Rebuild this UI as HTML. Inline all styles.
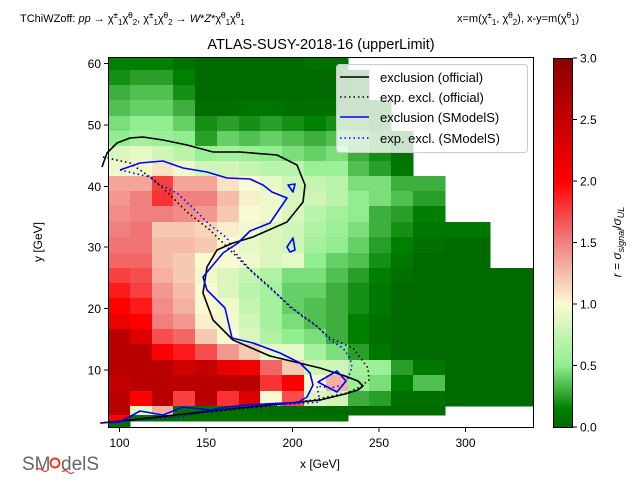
<!DOCTYPE html>
<html><head><meta charset="utf-8"><style>
body{margin:0;background:#fff;}
svg text{font-family:"Liberation Sans","DejaVu Sans",sans-serif;}
</style></head><body>
<svg id="s" width="640" height="480" xmlns="http://www.w3.org/2000/svg">
<defs>
<linearGradient id="cb" x1="0" y1="1" x2="0" y2="0">
<stop offset="0" stop-color="rgb(0,105,0)"/>
<stop offset="0.05" stop-color="rgb(0,128,0)"/>
<stop offset="0.1667" stop-color="rgb(144,238,144)"/>
<stop offset="0.3333" stop-color="rgb(250,250,210)"/>
<stop offset="0.5" stop-color="rgb(240,128,128)"/>
<stop offset="0.6667" stop-color="rgb(255,0,0)"/>
<stop offset="1" stop-color="rgb(139,0,0)"/>
</linearGradient>
</defs>
<g id="cells"></g>
<g fill="none" stroke-width="1.6" stroke-linejoin="round">
<path stroke="#000" d="M102,167 L107,153 L117,143 L130,138 L143,137 L163,140 L187,145 L213,152 L240,152 L277,155 L297,165 L305,185 L303,202 L287,222 L253,237 L233,243 L217,250 L207,267 L203,293 L213,320 L233,340 L270,356 L320,368 L345,376 L358,381 L363,386 L358,390 L345,394 L320,400 L280,404 L200,412 L150,418 L101,423"/>
<path stroke="#000" stroke-dasharray="1.5,3" d="M103,157 L130,163 L150,177 L167,192 L187,212 L210,230 L227,247 L247,267 L270,287 L290,307 L313,323 L330,338 L353,348 L368,368 L369,380 L360,387 L347,393 L313,400 L260,407 L200,413 L150,418 L100,423"/>
<path stroke="#0000ff" d="M120,170 L140,163 L163,161 L183,168 L207,172 L227,178 L250,179 L263,185 L272,192 L287,198 L270,223 L250,231 L238,243 L223,253 L203,277 L207,290 L225,308 L232,338 L253,343 L280,353 L300,363 L310,373 L313,385 L307,397 L297,403 L283,403 L247,405 L227,407 L210,410 L183,407 L163,415 L140,411 L120,422 L110,423"/>
<path stroke="#0000ff" d="M318,382 L337,371 L346,381 L337,392 Z"/>
<path stroke="#0000ff" d="M288,185 L295,184 L293,192 Z"/>
<path stroke="#0000ff" d="M287,247 L293,238 L295,250 L290,252 Z"/>
<path stroke="#0000ff" stroke-dasharray="1.5,3" d="M120,170 L150,177 L160,185 L177,193 L193,208 L210,225 L227,238 L233,250 L253,273 L280,297 L303,317 L318,327 L330,340 L343,348 L350,358 L352,367 L348,378 L343,385 L330,388 L317,386 L320,402 L280,405 L233,408 L200,413 L180,417 L140,420 L100,423"/>
</g>
<rect x="108.5" y="57.5" width="425" height="370" fill="none" stroke="#000" stroke-width="1"/>
<g stroke="#000" stroke-width="1" id="ticks"></g>
<g font-size="12" fill="#000" id="tl"></g>
<rect x="336.5" y="64.5" width="191" height="88" rx="3" fill="#fff" fill-opacity="0.8" stroke="#ccc"/>
<line x1="340" y1="77" x2="369" y2="77" stroke="#000" stroke-width="1.6"/>
<line x1="340" y1="97" x2="369" y2="97" stroke="#000" stroke-width="1.6" stroke-dasharray="1.5,3"/>
<line x1="340" y1="117" x2="369" y2="117" stroke="#0000ff" stroke-width="1.6"/>
<line x1="340" y1="138" x2="369" y2="138" stroke="#0000ff" stroke-width="1.6" stroke-dasharray="1.5,3"/>
<g font-size="13" fill="#000">
<text x="380" y="82">exclusion (official)</text>
<text x="380" y="102">exp. excl. (official)</text>
<text x="380" y="122">exclusion (SModelS)</text>
<text x="380" y="143">exp. excl. (SModelS)</text>
</g>
<rect x="553" y="58" width="19" height="369" fill="url(#cb)"/>
<rect x="553.5" y="58.5" width="19" height="369" fill="none" stroke="#000" stroke-width="1"/>
<g id="cbt" font-size="12"></g>
<text transform="translate(621,242) rotate(-90)" text-anchor="middle" font-size="12"><tspan font-style="italic">r</tspan> = <tspan font-style="italic">σ</tspan><tspan font-size="9" dy="3" font-style="italic">signal</tspan><tspan dy="-3">/</tspan><tspan font-style="italic">σ</tspan><tspan font-size="9" dy="3" font-style="italic">UL</tspan></text>
<text x="20" y="22" font-size="11">TChiWZoff: <tspan font-style="italic">pp</tspan> → χ̃<tspan font-size="8" dy="-4">±</tspan><tspan font-size="8" dy="7">1</tspan><tspan dy="-3">χ̃</tspan><tspan font-size="8" dy="-4">0</tspan><tspan font-size="8" dy="7">2</tspan><tspan dy="-3">, χ̃</tspan><tspan font-size="8" dy="-4">±</tspan><tspan font-size="8" dy="7">1</tspan><tspan dy="-3">χ̃</tspan><tspan font-size="8" dy="-4">0</tspan><tspan font-size="8" dy="7">2</tspan><tspan dy="-3"> → </tspan><tspan font-style="italic">W</tspan>*<tspan font-style="italic">Z</tspan>*χ̃<tspan font-size="8" dy="-4">0</tspan><tspan font-size="8" dy="7">1</tspan><tspan dy="-3">χ̃</tspan><tspan font-size="8" dy="-4">0</tspan><tspan font-size="8" dy="7">1</tspan></text>
<text x="457" y="22" font-size="11">x=m(χ̃<tspan font-size="8" dy="-4">±</tspan><tspan font-size="8" dy="7">1</tspan><tspan dy="-3">, χ̃</tspan><tspan font-size="8" dy="-4">0</tspan><tspan font-size="8" dy="7">2</tspan><tspan dy="-3">), x-y=m(χ̃</tspan><tspan font-size="8" dy="-4">0</tspan><tspan font-size="8" dy="7">1</tspan><tspan dy="-3">)</tspan></text>
<text x="321" y="49" font-size="14.5" text-anchor="middle">ATLAS-SUSY-2018-16 (upperLimit)</text>
<text x="320" y="468" font-size="12" text-anchor="middle">x [GeV]</text>
<text transform="translate(42,242) rotate(-90)" font-size="12" text-anchor="middle">y [GeV]</text>
<text x="22" y="470" font-size="19" fill="#666">SM</text>
<circle cx="55" cy="463" r="4.5" fill="none" stroke="#f32" stroke-width="2"/>
<text x="61" y="470" font-size="19" fill="#666">delS</text>
<path d="M36,470 q3,-3 6,0 t6,0 M62,472 q3,-3 6,0 t6,0" fill="none" stroke="#f32" stroke-width="1.2"/>
</svg>
<script>
var NS="http://www.w3.org/2000/svg";
var ye=[57,70,85,100,116,131,146,161,176,191,206,222,237,253,268,283,298,314,329,344,360,375,391,406,415,421,427];
var xe=[109,130,152,173,195,217,239,260,282,304,326,348,369,391,413,445,490,533];
var V=[
[.15,.15,.15,.05,0,0,0,0,0,.05,.05],
[.2,.25,.25,.15,0,0,0,0,0,0,0,.05],
[.3,.35,.35,.2,0,0,0,0,0,0,0,.05],
[.35,.4,.4,.3,.03,.03,.07,.07,.03,.05,.05,.05,.1],
[.45,.5,.5,.4,.2,.25,.2,.25,.2,.15,.2,.2,.1],
[.5,.6,.55,.5,.25,.4,.35,.4,.35,.3,.35,.3,.2,.1],
[.85,.9,.8,.7,.55,.6,.55,.5,.45,.4,.45,.3,.2,.05],
[.95,.95,1.1,.95,.8,.8,.75,.7,.7,.55,.55,.35,.25,.1],
[1.35,1.35,1.75,1.35,1.35,1.1,1.0,.9,.8,.75,.7,.45,.45,.3,.3],
[1.4,1.5,1.8,1.5,1.5,1.25,1.05,.95,.85,.8,.7,.5,.45,.35,.25],
[1.45,1.5,1.5,1.45,1.4,1.2,1.0,.95,.85,.7,.6,.5,.3,.25,.15],
[1.5,1.55,1.2,1.2,1.15,1.05,.95,.85,.8,.65,.55,.45,.3,.2,.1,.1],
[1.55,1.55,1.25,1.25,1.2,1.0,.9,.85,.8,.6,.5,.4,.25,.15,.05,0],
[1.6,1.6,1.25,1.2,1.0,1.0,.95,.85,.9,.5,.4,.35,.2,.1,0,0],
[1.75,1.7,1.3,1.2,.95,.85,.75,.65,.45,.45,.35,.25,.15,.05,0,0,0],
[1.9,1.75,1.4,1.25,1.0,.85,.7,.6,.4,.4,.3,.2,.1,0,0,0,0],
[2.0,1.9,1.45,1.3,1.0,.95,.75,.6,.4,.35,.3,.2,.1,0,0,0,0],
[2.15,2.0,1.5,1.4,1.05,.95,.8,.6,.45,.35,.3,.15,.05,0,0,0,0],
[2.6,2.3,1.7,1.6,1.2,1.0,.85,.65,.5,.45,.3,.15,.05,0,0,0,0],
[2.6,2.6,2.0,1.9,1.7,1.4,1.2,.9,.9,.6,.45,.25,.1,0,0,0,0],
[2.6,2.6,2.6,2.4,2.5,2.2,2.1,1.6,1.2,.8,.8,.6,.55,.25,.1,0,0],
[2.5,2.6,2.6,2.6,2.6,2.6,2.6,1.8,2.0,1.0,1.3,.55,.45,.15,.35,0,0],
[2.6,2.0,2.6,1.75,2.6,1.8,2.3,1.0,1.7,.85,.8,.3,.25,.05,.05,0,0],
[2.6,.9,1.3,.05,.05,.05,.05,.02,.02,.02,.02,.02,.02,.02,.02],
[2.0,.05,.05,.05,.05,.05,.05,.05,.05,.05,.05],
[.05]
];
var st=[[0,[0,105,0]],[.15,[0,128,0]],[.5,[144,238,144]],[1,[250,250,210]],[1.5,[240,128,128]],[2,[255,0,0]],[3,[139,0,0]]];
function col(v){for(var i=1;i<st.length;i++){if(v<=st[i][0]){var a=st[i-1],b=st[i],t=(v-a[0])/(b[0]-a[0]);return "rgb("+[0,1,2].map(function(k){return Math.round(a[1][k]+(b[1][k]-a[1][k])*t)}).join(",")+")";}}return "rgb(139,0,0)";}
var g=document.getElementById("cells");
V.forEach(function(row,r){row.forEach(function(v,c){var e=document.createElementNS(NS,"rect");e.setAttribute("x",xe[c]);e.setAttribute("y",ye[r]);e.setAttribute("width",xe[c+1]-xe[c]+0.5);e.setAttribute("height",ye[r+1]-ye[r]+0.5);e.setAttribute("fill",col(v));g.appendChild(e);});});
var tk=document.getElementById("ticks"),tl=document.getElementById("tl");
function L(x1,y1,x2,y2,p){var e=document.createElementNS(NS,"line");e.setAttribute("x1",x1);e.setAttribute("y1",y1);e.setAttribute("x2",x2);e.setAttribute("y2",y2);p.appendChild(e);}
function T(x,y,s,a,p){var e=document.createElementNS(NS,"text");e.setAttribute("x",x);e.setAttribute("y",y);e.setAttribute("text-anchor",a);e.textContent=s;p.appendChild(e);}
[[100,119.5],[150,206],[200,292.5],[250,379],[300,465.5]].forEach(function(d){L(d[1],428,d[1],432,tk);T(d[1],447,d[0],"middle",tl);});
[[10,370],[20,308.5],[30,247],[40,186.5],[50,125],[60,63.5]].forEach(function(d){L(108,d[1],104,d[1],tk);T(101,d[1]+4.5,d[0],"end",tl);});
var cbt=document.getElementById("cbt");
for(var i=0;i<=6;i++){var v=i*0.5,y=427-v/3*369;L(573,y,577,y,tk);T(580,y+4.5,v.toFixed(1),"start",cbt);}
</script>
</body></html>
